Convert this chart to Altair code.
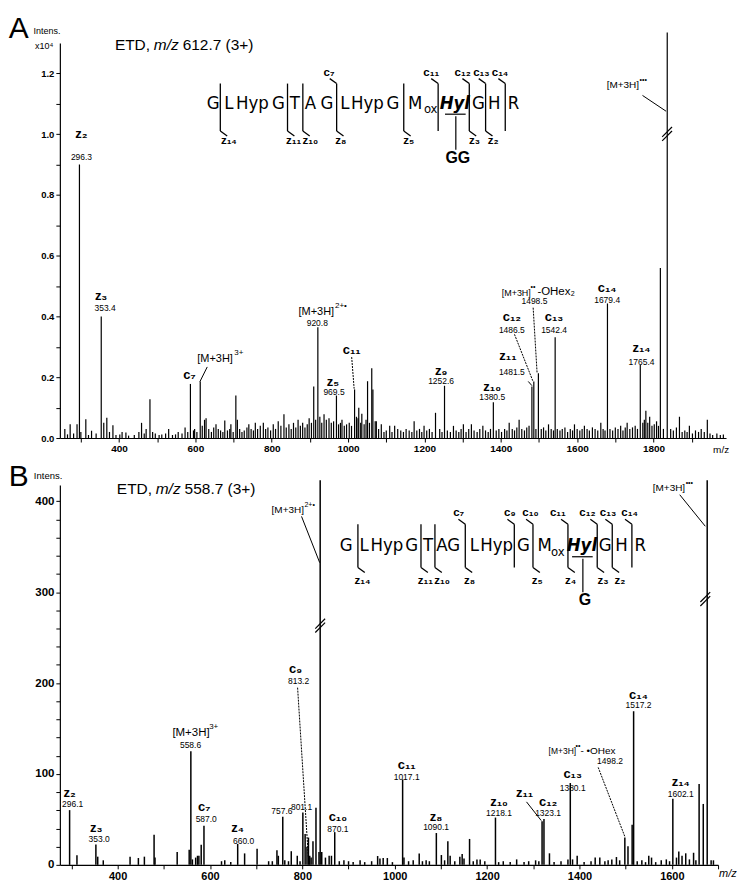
import altair as alt
import pandas as pd

SANS = "Liberation Sans, Arial, Helvetica, sans-serif"
NARROW = "Liberation Sans Narrow, Arial Narrow, DejaVu Sans Condensed, sans-serif"

# ---------------- Panel A: ETD, m/z 612.7 (3+) ; intensity x10^4 ----------------
A_ION_MZ = [296.3, 353.4, 587.0, 612.7, 920.8, 969.5, 1017.0, 1252.6, 1380.5,
            1481.5, 1486.5, 1498.5, 1542.4, 1679.4, 1765.4, 1836.0]
A_ION_INT = [0.90, 0.40, 0.178, 0.186, 0.365, 0.14, 0.16, 0.172, 0.118,
             0.17, 0.186, 0.213, 0.332, 0.443, 0.24, 1.335]
A_OTHER_MZ = [481, 706, 910, 1028, 1051, 1062, 1065, 1229, 1818]
A_OTHER_INT = [0.128, 0.14, 0.17, 0.10, 0.187, 0.23, 0.16, 0.083, 0.56]
A_NOISE_MZ = [258, 265, 272, 281, 290, 300, 313, 320, 328, 340, 360, 368, 375, 384, 392,
              402, 408, 418, 425, 440, 452, 459, 466, 471, 488, 495, 505, 512, 522, 530,
              540, 548, 555, 565, 573, 580, 595, 598, 604, 618, 624, 628, 635, 642, 648,
              654, 660, 666, 672, 677, 684, 690, 693, 699, 710, 716, 722, 728, 735, 740,
              746, 752, 757, 763, 770, 778, 784, 790, 797, 804, 810, 817, 824, 832, 838,
              845, 851, 857, 863, 869, 875, 881, 887, 893, 898, 904, 915, 926, 931, 937,
              943, 950, 956, 962, 975, 980, 984, 990, 996, 1003, 1009, 1022, 1026, 1033,
              1036, 1042, 1047, 1056, 1071, 1074, 1080, 1087, 1094, 1100, 1109, 1115,
              1122, 1130, 1138, 1145, 1152, 1160, 1167, 1173, 1180, 1187, 1193, 1199,
              1206, 1213, 1220, 1240, 1246, 1260, 1268, 1276, 1283, 1290, 1296, 1302,
              1309, 1316, 1323, 1330, 1338, 1345, 1353, 1360, 1367, 1373, 1388, 1395,
              1402, 1410, 1416, 1422, 1430, 1436, 1442, 1448, 1455, 1462, 1468, 1474,
              1492, 1506, 1512, 1518, 1525, 1532, 1538, 1548, 1555, 1561, 1568, 1575,
              1582, 1588, 1593, 1600, 1607, 1613, 1619, 1626, 1632, 1640, 1647, 1654,
              1662, 1668, 1673, 1686, 1693, 1700, 1707, 1714, 1720, 1726, 1731, 1738,
              1745, 1752, 1758, 1772, 1776, 1780, 1785, 1790, 1796, 1802, 1808, 1813,
              1826, 1845, 1852, 1860, 1868, 1875, 1882, 1888, 1894, 1902, 1910, 1918,
              1925, 1933, 1941, 1948, 1955, 1966, 1975, 1983]
A_NOISE_INT = [0.03, 0.012, 0.045, 0.015, 0.045, 0.02, 0.062, 0.01, 0.024, 0.015, 0.05, 0.067,
               0.02, 0.042, 0.01, 0.012, 0.02, 0.018, 0.008, 0.01, 0.02, 0.05, 0.015, 0.03,
               0.02, 0.015, 0.01, 0.012, 0.015, 0.03, 0.01, 0.012, 0.02, 0.015, 0.035, 0.02,
               0.025, 0.03, 0.02, 0.04, 0.06, 0.065, 0.03, 0.02, 0.035, 0.045, 0.03, 0.025,
               0.02, 0.058, 0.025, 0.03, 0.045, 0.02, 0.06, 0.03, 0.02, 0.025, 0.035, 0.045,
               0.03, 0.025, 0.05, 0.03, 0.04, 0.05, 0.03, 0.035, 0.025, 0.045, 0.03, 0.055,
               0.04, 0.078, 0.035, 0.045, 0.03, 0.05, 0.035, 0.06, 0.04, 0.05, 0.035, 0.045,
               0.065, 0.05, 0.06, 0.07, 0.05, 0.078, 0.06, 0.065, 0.05, 0.055, 0.045, 0.05,
               0.06, 0.04, 0.045, 0.05, 0.04, 0.07, 0.065, 0.05, 0.08, 0.045, 0.06, 0.05,
               0.055, 0.055, 0.03, 0.045, 0.02, 0.025, 0.04, 0.02, 0.04, 0.03, 0.025, 0.02,
               0.03, 0.025, 0.02, 0.055, 0.025, 0.03, 0.02, 0.04, 0.025, 0.03, 0.02, 0.03,
               0.02, 0.025, 0.02, 0.04, 0.025, 0.02, 0.03, 0.045, 0.02, 0.03, 0.045, 0.025,
               0.02, 0.03, 0.04, 0.025, 0.02, 0.03, 0.025, 0.03, 0.02, 0.03, 0.025, 0.05,
               0.03, 0.025, 0.035, 0.06, 0.03, 0.025, 0.035, 0.04, 0.03, 0.03, 0.035, 0.025,
               0.045, 0.03, 0.025, 0.03, 0.025, 0.03, 0.035, 0.02, 0.03, 0.025, 0.045, 0.03,
               0.025, 0.03, 0.04, 0.03, 0.025, 0.035, 0.03, 0.025, 0.05, 0.03, 0.025, 0.03,
               0.025, 0.035, 0.03, 0.04, 0.025, 0.035, 0.05, 0.03, 0.035, 0.04, 0.03, 0.05,
               0.06, 0.09, 0.05, 0.07, 0.04, 0.045, 0.055, 0.04, 0.03, 0.03, 0.025, 0.035,
               0.07, 0.02, 0.025, 0.02, 0.04, 0.015, 0.025, 0.02, 0.03, 0.02, 0.06, 0.015,
               0.01, 0.015, 0.01, 0.012]

# ---------------- Panel B: ETD, m/z 558.7 (3+) ; intensity counts ----------------
B_ION_MZ = [296.1, 353.0, 558.6, 587.0, 660.0, 757.6, 801.1, 813.2, 838.6, 870.1,
            1017.1, 1090.1, 1218.1, 1319.0, 1323.1, 1380.1, 1498.2, 1517.2, 1602.1, 1676.5]
B_ION_INT = [60.2, 22.4, 125, 43, 23, 53, 57.6, 30, 423, 36,
             94, 35, 52, 48, 50.5, 90, 30, 169, 72.8, 423]
B_OTHER_MZ = [312, 357, 369, 427, 445, 458, 479, 481, 529, 555, 562, 569, 573, 576, 581,
              625, 632, 645, 675, 702, 727, 735, 745, 748, 762, 770, 776, 789, 795, 806,
              810, 816, 819, 823, 829.5, 836, 842, 850, 858, 863, 880, 890, 900, 910, 925,
              935, 950, 963, 968, 975, 984, 995, 1020, 1030, 1040, 1053, 1060, 1068, 1075,
              1101, 1108, 1115, 1120, 1130, 1141, 1146, 1150, 1162, 1170, 1178, 1185, 1195,
              1225, 1235, 1250, 1264, 1280, 1290, 1305, 1312, 1335, 1345, 1360, 1375, 1385,
              1395, 1410, 1425, 1434, 1444, 1455, 1462, 1470, 1480, 1487, 1505, 1514, 1525,
              1535, 1543, 1550, 1556, 1565, 1577, 1588, 1595, 1610, 1615, 1622, 1630, 1638,
              1647, 1652, 1659, 1668, 1685, 1690]
B_OTHER_INT = [10.5, 9, 5, 9, 7.5, 9, 33, 8, 14, 16.5, 6, 8, 10, 10, 22,
               4, 5, 3, 12.6, 17.7, 4, 4, 16, 10, 5, 4, 15, 10, 4, 34,
               20, 10, 8, 26, 62.7, 14, 14, 8, 10, 10, 4, 5, 4, 3, 5,
               3, 4, 9.7, 7, 7.5, 7.5, 3, 8, 4, 5, 12.6, 4, 5, 4,
               10.8, 5, 26, 10, 4, 9, 12, 7, 28.5, 4, 6, 6, 4,
               3, 4, 3, 6, 3, 4, 5, 4, 12.7, 3, 4, 6, 6,
               10, 3, 4, 8, 8, 4, 5, 6, 8.6, 5, 20.5, 44, 4,
               5, 3, 10, 8, 3, 5, 6, 4, 8, 14.6, 10, 12.7, 6,
               13.3, 5, 89, 67, 5, 5]


def peaks_df(mz_lists, int_lists):
    mz, v = [], []
    for a, b in zip(mz_lists, int_lists):
        mz += list(a)
        v += list(b)
    return pd.DataFrame({"x": mz, "y": v, "y0": [0] * len(mz)})


# ---------------- layout geometry ----------------
# annotation positions are read in the reference's page pixels (x0,y0,w,h);
# rw/rh are the rendered plot sizes.
PA = dict(x0=60, y0=439, w=678, h=400, xd=[245, 1990], yd=[0, 1.3], rw=668, rh=396)
PB = dict(x0=60, y0=874, w=670, h=386, xd=[275, 1700], yd=[0, 418], rw=660, rh=381)


def fx(P, px):
    return P["xd"][0] + (px - P["x0"]) / P["w"] * (P["xd"][1] - P["xd"][0])


def fy(P, py):
    return P["yd"][0] + (P["y0"] - py) / P["h"] * (P["yd"][1] - P["yd"][0])


STYLES = {
    "lab": dict(align="center", fontWeight="normal", fontStyle="normal", font=SANS),
    "labL": dict(align="left", fontWeight="normal", fontStyle="normal", font=SANS),
    "labI": dict(align="left", fontWeight="normal", fontStyle="italic", font=SANS),
    "ion": dict(align="center", fontWeight="bold", fontStyle="normal", font=SANS),
    "pep": dict(align="center", fontWeight="normal", fontStyle="normal", font=NARROW),
    "pepL": dict(align="left", fontWeight="normal", fontStyle="normal", font=NARROW),
    "pepBI": dict(align="center", fontWeight="bold", fontStyle="italic", font=NARROW),
}


def build_panel(P, peaks, texts, segs, dsegs, xvals, xlab, yvals, ylab, xls, yls, pw):
    xs = alt.Scale(domain=P["xd"], nice=False, zero=False)
    ys = alt.Scale(domain=P["yd"], nice=False, zero=False)
    ax_x = alt.Axis(values=xvals, labelExpr=xlab, title=None, tickSize=4, labelPadding=2,
                    labelFontSize=xls)
    ax_y = alt.Axis(values=yvals, labelExpr=ylab, title=None, tickSize=4, labelPadding=2,
                    labelFontSize=yls)
    X = alt.X("x:Q", scale=xs, axis=ax_x)
    Y = alt.Y("y:Q", scale=ys, axis=ax_y)
    layers = [
        alt.Chart(peaks).mark_rule(color="black", strokeWidth=pw).encode(x=X, y=Y, y2="y0:Q")
    ]
    if segs:
        df = pd.DataFrame(segs, columns=["a", "b", "c", "d", "w"])
        df["x"] = df.a.map(lambda v: fx(P, v)); df["y"] = df.b.map(lambda v: fy(P, v))
        df["x2"] = df.c.map(lambda v: fx(P, v)); df["y2"] = df.d.map(lambda v: fy(P, v))
        layers.append(alt.Chart(df).mark_rule(color="black").encode(
            x=X, y=Y, x2="x2:Q", y2="y2:Q", strokeWidth=alt.StrokeWidth("w:Q", scale=None)))
    if dsegs:
        df = pd.DataFrame(dsegs, columns=["a", "b", "c", "d"])
        df["x"] = df.a.map(lambda v: fx(P, v)); df["y"] = df.b.map(lambda v: fy(P, v))
        df["x2"] = df.c.map(lambda v: fx(P, v)); df["y2"] = df.d.map(lambda v: fy(P, v))
        layers.append(alt.Chart(df).mark_rule(color="black", strokeWidth=1, strokeDash=[2, 1]).encode(
            x=X, y=Y, x2="x2:Q", y2="y2:Q"))
    df = pd.DataFrame(texts, columns=["t", "px", "py", "s", "k"])
    # svg 'middle' sits a little below the cap centre: lift by 0.15 em
    df["x"] = df.px.map(lambda v: fx(P, v))
    df["y"] = [fy(P, py - 0.15 * s) for py, s in zip(df.py, df.s)]
    for k, st in STYLES.items():
        sub = df[df.k == k]
        if len(sub) == 0:
            continue
        layers.append(alt.Chart(sub).mark_text(baseline="middle", color="black", **st).encode(
            x=X, y=Y, text="t:N", size=alt.Size("s:Q", scale=None)))
    return alt.layer(*layers).properties(width=P["rw"], height=P["rh"])


def peptide(letters, ox, hyl, bars, yc, top, bot, cy, zy, branch, branch_lab):
    texts, segs = [], []
    for t, x in letters:
        texts.append((t, x, yc, 18.5, "pep"))
    texts.append(("ox", ox, yc + 6, 13, "pepL"))
    texts.append(("Hyl", hyl, yc, 18.5, "pepBI"))
    segs.append((hyl - 10, yc + 9, hyl + 11, yc + 9, 1.2))
    segs.append((hyl + 1, yc + 11, hyl + 1, branch[0], 1.2))
    texts.append((branch_lab, hyl + 3, branch[1], 16, "ion"))
    for x, cl, cx, zl, zx in bars:
        segs.append((x, top, x, bot, 1.3))
        if cl:
            segs.append((x - 7, top - 5, x, top, 1.3))
            texts.append((cl, cx, cy, 11.5, "ion"))
        if zl:
            segs.append((x, bot, x + 7, bot + 5, 1.3))
            texts.append((zl, zx, zy, 11.5, "ion"))
    return texts, segs


def brk(cx, cy):
    return [(cx - 5, cy + 4, cx + 5, cy - 6, 1.2), (cx - 5, cy + 8, cx + 5, cy - 2, 1.2)]


# ---------------- Panel A annotations ----------------
textsA = [
    ("A", 8, 29, 30, "labL"),
    ("Intens.", 47, 28, 9, "lab"),
    ("x10⁴", 44, 43, 9, "lab"),
    ("ETD, ", 116, 43, 15.5, "labL"),
    ("m/z", 155.6, 43, 15.5, "labI"),
    ("612.7 (3+)", 185, 43, 15.5, "labL"),
    ("m/z", 733, 453, 10, "lab"),
]
textsA += [(t, x, y, 13, "ion") for t, x, y in [
    ("z₂", 82, 133), ("z₃", 102, 297), ("c₇", 192, 377), ("z₅", 338, 384), ("c₁₁", 357, 352),
    ("z₉", 448, 373), ("z₁₀", 500, 389), ("z₁₁", 516, 358), ("c₁₂", 520, 318), ("c₁₃", 563, 318),
    ("c₁₄", 617, 289), ("z₁₄", 652, 350)]]
textsA += [(t, x, y, 8.5, "lab") for t, x, y in [
    ("296.3", 82, 156), ("353.4", 106, 309), ("920.8", 322, 324), ("969.5", 339, 394),
    ("1252.6", 448, 383), ("1380.5", 500, 399), ("1481.5", 520, 373), ("1486.5", 520, 331),
    ("1498.5", 543, 302), ("1542.4", 563, 331), ("1679.4", 617, 300), ("1765.4", 652, 363)]]
textsA += [
    ("[M+3H]", 218, 361, 11, "lab"), ("3+", 237.5, 354, 8, "labL"),
    ("[M+3H]", 321, 313, 11, "lab"), ("2+•", 340, 306, 8, "labL"),
    ("[M+3H]", 524.5, 293, 9, "lab"), ("••", 539, 287, 7, "labL"), ("-OHex₂", 546, 293, 11.5, "labL"),
    ("[M+3H]", 633, 83, 10, "lab"), ("•••", 650, 77, 7, "labL"),
]
segsA = [(210, 367, 202.5, 382, 1), (536.7, 381.7, 540.5, 386, 1), (653, 92, 677, 108, 1)] + brk(678, 130)
dsegsA = [(357, 357, 359.5, 389), (522.7, 334, 541.7, 382), (541.7, 307, 545.7, 373)]
pepA_letters = [("G", 216), ("L", 232), ("Hyp", 256), ("G", 282.5), ("T", 299), ("A", 315), ("G", 331.7),
                ("L", 350), ("Hyp", 373), ("G", 399), ("M", 421.7), ("G", 486), ("H", 502), ("R", 521.7)]
pepA_bars = [(223.3, None, None, "z₁₄", 232), (291.7, None, None, "z₁₁", 298), (307.3, None, None, "z₁₀", 315),
             (341.7, "c₇", 334, "z₈", 346), (410, None, None, "z₅", 415), (445, "c₁₁", 438, None, None),
             (476.7, "c₁₂", 470, "z₃", 482), (493.3, "c₁₃", 489, "z₂", 501), (513.3, "c₁₄", 508, None, None)]
t, s = peptide(pepA_letters, 430.5, 462, pepA_bars, 102, 80, 128, 71, 140, (147, 158), "GG")
textsA += t
segsA += s

# ---------------- Panel B annotations ----------------
textsB = [
    ("B", 8, 484, 30, "labL"),
    ("Intens.", 48, 480, 9.5, "lab"),
    ("ETD, ", 118, 495, 15.5, "labL"),
    ("m/z", 157.6, 495, 15.5, "labI"),
    ("558.7 (3+)", 187, 495, 15.5, "labL"),
    ("m/z", 731, 885, 11, "labI"),
]
textsB += [(t, x, y, 13, "ion") for t, x, y in [
    ("z₂", 70, 803), ("z₃", 97, 839), ("c₇", 207, 817), ("z₄", 241, 839), ("c₉", 300, 677),
    ("c₁₀", 343, 827), ("c₁₁", 413, 775), ("z₈", 443, 827), ("z₁₀", 507, 812), ("z₁₁", 533, 803),
    ("c₁₂", 557, 812), ("c₁₃", 582, 784), ("c₁₄", 649, 703), ("z₁₄", 692, 792)]]
textsB += [(t, x, y, 8.5, "lab") for t, x, y in [
    ("296.1", 73, 813), ("353.0", 100, 849), ("558.6", 193, 754), ("587.0", 209, 829),
    ("660.0", 247, 851), ("757.6", 286, 821), ("801.1", 306, 817), ("813.2", 303, 689),
    ("870.1", 343, 839), ("1017.1", 413, 786), ("1090.1", 443, 837), ("1218.1", 507, 823),
    ("1323.1", 557, 823), ("1380.1", 582, 797), ("1498.2", 620, 770), ("1517.2", 649, 713),
    ("1602.1", 692, 803)]]
textsB += [
    ("[M+3H]", 193.5, 742, 11.5, "lab"), ("3+", 212, 735, 8, "labL"),
    ("[M+3H]", 292, 515, 10, "lab"), ("2+•", 309, 509, 7, "labL"),
    ("[M+3H]", 571.5, 760, 8.5, "lab"), ("••", 585, 754, 7, "labL"), ("- •OHex", 590, 760, 10, "labL"),
    ("[M+3H]", 680, 493, 10, "lab"), ("•••", 697, 487, 7, "labL"),
]
segsB = [(306, 520, 324.5, 567, 1), (535, 810, 550, 829, 1), (691, 498, 717, 530, 1)] + brk(325, 630) + brk(717, 603)
dsegsB = [(302, 694, 313, 867), (608, 775, 635, 845)]
pepB_letters = [("G", 351.5), ("L", 369.6), ("Hyp", 393), ("G", 418), ("T", 434.7), ("A", 449),
                ("G", 460.8), ("L", 482), ("Hyp", 504.7), ("G", 532), ("M", 553.4), ("G", 615.2),
                ("H", 631.8), ("R", 650.8)]
pepB_bars = [(363.4, None, None, "z₁₄", 368), (427.6, None, None, "z₁₁", 432), (441.8, None, None, "z₁₀", 449),
             (472.7, "c₇", 466, "z₈", 477), (522.6, "c₉", 518, None, None), (541.6, "c₁₀", 539, "z₅", 546),
             (577.2, "c₁₁", 567, "z₄", 580), (607, "c₁₂", 597, "z₃", 613), (622.3, "c₁₃", 618, "z₂", 630),
             (642.3, "c₁₄", 640, None, None)]
t, s = peptide(pepB_letters, 560, 591.4, pepB_bars, 552, 528, 572, 518, 587, (597, 607), "G")
textsB += t
segsB += s

xvalsA = list(range(300, 2000, 100))
xvalsB = list(range(300, 1701, 100))
yvalsA = [i / 10 for i in range(0, 13)]
yvalsB = list(range(0, 401, 20))
XLAB = "datum.value % 200 == 0 ? format(datum.value, 'd') : ''"
YLAB_A = "round(datum.value * 10) % 2 == 0 ? format(datum.value, '.1f') : ''"
YLAB_B = "datum.value % 100 == 0 ? format(datum.value, 'd') : ''"

panelA = build_panel(PA, peaks_df([A_ION_MZ, A_OTHER_MZ, A_NOISE_MZ], [A_ION_INT, A_OTHER_INT, A_NOISE_INT]),
                     textsA, segsA, dsegsA, xvalsA, XLAB, yvalsA, YLAB_A, 10, 9.5, 1.2)
panelB = build_panel(PB, peaks_df([B_ION_MZ, B_OTHER_MZ], [B_ION_INT, B_OTHER_INT]),
                     textsB, segsB, dsegsB, xvalsB, XLAB, yvalsB, YLAB_B, 11, 11.5, 1.5)

chart = alt.vconcat(panelA, panelB, spacing=5).properties(
    padding={"left": 0, "top": 4, "right": 0, "bottom": 0}
).configure_view(stroke=None).configure_axis(
    domainColor="black", tickColor="black", labelColor="black", labelFont=SANS,
    labelFontWeight="bold", grid=False, domainWidth=1.2, tickWidth=1
)

chart.save("out.html", embed_options={"renderer": "svg", "actions": False})
